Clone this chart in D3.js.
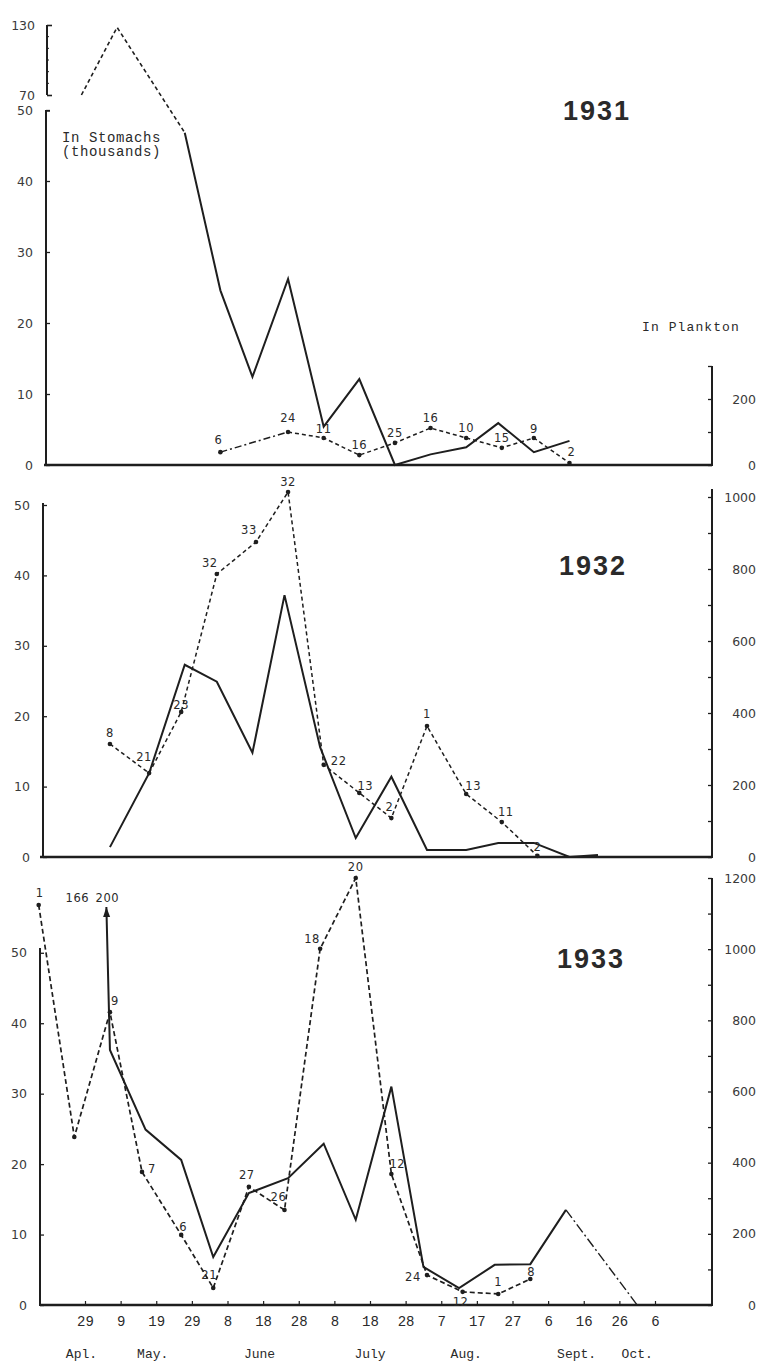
<!DOCTYPE html>
<html>
<head>
<meta charset="utf-8">
<script src="https://cdn.jsdelivr.net/npm/d3@7"></script>
<style>
  body { margin: 0; background: #fff; }
  #chart text { opacity: 0.995; }
  .num { font-family: "DejaVu Sans", sans-serif; font-size: 12.5px; fill: #3a3a3a; }
  .type { font-family: "Liberation Mono", monospace; fill: #2a2a2a; }
  .cnt { font-family: "DejaVu Sans", sans-serif; font-size: 11.5px; fill: #2a2a2a; letter-spacing: 0.6px; }
  .year { font-family: "Liberation Sans", Arial, sans-serif; font-weight: bold; font-size: 27px; fill: #2a2a2a; letter-spacing: 2px; }
</style>
</head>
<body>
<svg id="chart" width="761" height="1362"></svg>
<script>
// ---- shared calendar axis ----
const tickDates = ["04-29","05-09","05-19","05-29","06-08","06-18","06-28","07-08","07-18",
                   "07-28","08-07","08-17","08-27","09-06","09-16","09-26","10-06"];
const monthNames   = ["Apl.","May.","June","July","Aug.","Sept.","Oct."];
const monthAnchors = ["04-28","05-18","06-17","07-18","08-14","09-14","10-01"];

const stomachTicks = [0, 10, 20, 30, 40, 50];
const upperTicks1931 = [70, 130];
const planktonTicks1931 = [0, 100, 200, 300];
const planktonTicks1932 = [0, 100, 200, 300, 400, 500, 600, 700, 800, 900, 1000];
const planktonTicks1933 = [0, 100, 200, 300, 400, 500, 600, 700, 800, 900, 1000, 1100, 1200];

// ---- 1931 ----
const stomach1931HighDates = ["04-28", "05-08"];
const stomach1931High      = [70, 128];          // upper (broken) scale
const stomach1931Dates = ["05-27","06-06","06-15","06-25","07-05","07-15","07-25","08-04","08-14","08-23","09-02","09-12"];
const stomach1931      = [46.8, 24.6, 12.4, 26.2, 5.4, 12.1, 0, 1.5, 2.5, 5.9, 1.8, 3.4];
const plankton1931Dates  = ["06-06","06-25","07-05","07-15","07-25","08-04","08-14","08-24","09-02","09-12"];
const plankton1931       = [39, 100, 82, 30, 67, 112, 82, 52, 82, 6];
const plankton1931Counts = ["6","24","11","16","25","16","10","15","9","2"];

// ---- 1932 ----
const stomach1932Dates = ["05-06","05-17","05-27","06-05","06-15","06-24","07-04","07-14","07-24","08-03","08-14","08-23","09-02","09-12","09-20"];
const stomach1932      = [1.4, 11.9, 27.3, 24.9, 14.8, 37.2, 15.6, 2.7, 11.4, 1.0, 1.0, 2.0, 2.0, 0, 0.3];
const plankton1932Dates  = ["05-06","05-17","05-26","06-05","06-16","06-25","07-05","07-15","07-24","08-03","08-14","08-24","09-03"];
const plankton1932       = [314, 233, 403, 786, 875, 1014, 256, 178, 108, 364, 175, 97, 3];
const plankton1932Counts = ["8","21","23","32","33","32","22","13","2","1","13","11","2"];

// ---- 1933 ----
const stomach1933Dates = ["05-05","05-06","05-16","05-26","06-04","06-14","06-25","07-05","07-14","07-24","08-02","08-12","08-22","09-01","09-11","10-01"];
const stomach1933      = [200, 36.2, 24.9, 20.6, 6.8, 15.9, 18.0, 22.9, 12.1, 31.0, 5.4, 2.4, 5.7, 5.8, 13.5, 0];
const stomach1933Offscale = ["166", "200"];
const plankton1933Dates  = ["04-16","04-26","05-06","05-15","05-26","06-04","06-14","06-24","07-04","07-14","07-24","08-03","08-13","08-23","09-01"];
const plankton1933       = [1124, 472, 823, 374, 197, 48, 332, 267, 1001, 1200, 368, 84, 37, 31, 73];
const plankton1933Counts = ["1","","9","7","6","21","27","26","18","20","12","24","12","1","8"];

// label placement (offset of each count label's centre from its point)
const labelOffsets1931 = [[-2,-12],[0,-14],[0,-9],[0,-10],[0,-10],[0,-10],[0,-10],[0,-10],[0,-9],[2,-11]];
const labelOffsets1932 = [[0,-11],[-5,-16],[0,-7],[-7,-11],[-7,-12],[0,-10],[15,-4],[6,-7],[-2,-11],[0,-12],[7,-8],[4,-10],[0,-9]];
const labelOffsets1933 = [[1,-12],[0,0],[5,-11],[10,-3],[2,-8],[-4,-13],[-2,-12],[-6,-13],[-8,-10],[0,-11],[6,-10],[-14,2],[-2,10],[0,-12],[1,-7]];

// ---------------------------------------------------------------
const INK = "#1e1e1e";
const svg = d3.select("#chart");
const parseDay = d3.timeParse("%Y-%m-%d");
const day = s => parseDay("1931-" + s);

const x = d3.scaleTime().domain([day("04-29"), day("10-06")]).range([85, 655]);
const RIGHT_X = 712;

svg.append("defs").append("marker")
  .attr("id", "arrowHead")
  .attr("viewBox", "0 -4 10 8").attr("refX", 10).attr("refY", 0)
  .attr("markerWidth", 10).attr("markerHeight", 8)
  .attr("markerUnits", "userSpaceOnUse")
  .attr("orient", "auto-start-reverse")
  .append("path").attr("d", "M0,-3.5L10,0L0,3.5Z").attr("fill", INK);

const zip = (dates, vals) => dates.map((d, i) => ({ date: day(d), v: vals[i], i }));

function leftAxis(y, axisX, topY, ticks) {
  const g = svg.append("g").attr("transform", `translate(${axisX},0)`)
    .call(d3.axisLeft(y).tickValues(ticks).tickSizeInner(-4).tickSizeOuter(0).tickPadding(13));
  g.select(".domain").remove();
  g.selectAll(".tick line").attr("stroke", INK).attr("stroke-width", 1.3);
  g.selectAll("text").attr("class", "num").attr("fill", null).attr("font-family", null).attr("font-size", null);
  g.append("line").attr("x1", 0).attr("x2", 0)
    .attr("y1", y(ticks[0]) + 1).attr("y2", topY)
    .attr("stroke", INK).attr("stroke-width", 2);
  return g;
}

function rightAxis(y, ticks, topY) {
  const g = svg.append("g").attr("transform", `translate(${RIGHT_X},0)`)
    .call(d3.axisRight(y).tickValues(ticks).tickSizeInner(-4).tickSizeOuter(0)
      .tickFormat(v => v % 200 === 0 ? v : ""));
  g.select(".domain").remove();
  g.selectAll(".tick line").attr("stroke", INK).attr("stroke-width", 1.3);
  g.selectAll("text").attr("class", "num").attr("fill", null).attr("font-family", null).attr("font-size", null)
    .attr("text-anchor", "end").attr("x", 44);
  g.append("line").attr("x1", 0).attr("x2", 0)
    .attr("y1", y(0) + 1).attr("y2", topY)
    .attr("stroke", INK).attr("stroke-width", 2);
}

function baseline(yPix, x0) {
  svg.append("line").attr("x1", x0).attr("x2", RIGHT_X)
    .attr("y1", yPix).attr("y2", yPix)
    .attr("stroke", INK).attr("stroke-width", 2.4);
}

function pathLine(points, y, opts) {
  const line = d3.line().x(d => x(d.date)).y(d => d.y !== undefined ? d.y : y(d.v));
  return svg.append("path").datum(points)
    .attr("d", line)
    .attr("fill", "none")
    .attr("stroke", INK)
    .attr("stroke-width", opts.width || 2)
    .attr("stroke-linejoin", "miter")
    .attr("stroke-dasharray", opts.dash || null);
}

function dotsAndCounts(points, y, counts, offsets) {
  svg.append("g").selectAll("circle").data(points).join("circle")
    .attr("cx", d => x(d.date)).attr("cy", d => y(d.v)).attr("r", 2.3).attr("fill", INK);
  svg.append("g").selectAll("text").data(points.filter(d => counts[d.i])).join("text")
    .attr("class", "cnt")
    .attr("text-anchor", "middle")
    .attr("x", d => x(d.date) + offsets[d.i][0])
    .attr("y", d => y(d.v) + offsets[d.i][1] + 4)
    .text(d => counts[d.i]);
}

function yearLabel(text, cx, by) {
  svg.append("text").attr("class", "year").attr("text-anchor", "middle")
    .attr("x", cx).attr("y", by).text(text);
}

// =================== 1931 ===================
{
  const y = d3.scaleLinear().domain([0, 50]).range([465, 110]);
  const yUp = d3.scaleLinear().domain([70, 130]).range([95, 25]);
  const yR = d3.scaleLinear().domain([0, 300]).range([465, 366]);

  baseline(465, 44);
  leftAxis(y, 46, 110, stomachTicks);
  svg.append("line").attr("x1", 46).attr("x2", 50).attr("y1", 111).attr("y2", 111)
    .attr("stroke", INK).attr("stroke-width", 1.5);

  // broken upper scale
  const gu = svg.append("g").attr("transform", "translate(47,0)")
    .call(d3.axisLeft(yUp).tickValues(upperTicks1931).tickSizeInner(-5).tickSizeOuter(0).tickPadding(12));
  gu.select(".domain").remove();
  gu.selectAll(".tick line").attr("stroke", INK).attr("stroke-width", 1.6);
  gu.selectAll("text").attr("class", "num").attr("fill", null).attr("font-family", null).attr("font-size", null);
  gu.append("line").attr("y1", yUp(70)).attr("y2", yUp(130)).attr("stroke", INK).attr("stroke-width", 2);
  gu.selectAll(".minor").data(d3.range(80, 130, 10)).join("line")
    .attr("x1", 0).attr("x2", 2).attr("y1", d => yUp(d)).attr("y2", d => yUp(d))
    .attr("stroke", INK).attr("stroke-width", 1);

  rightAxis(yR, planktonTicks1931, 366);

  const high = zip(stomach1931HighDates, stomach1931High).map(d => ({ date: d.date, y: yUp(d.v) }));
  const main = zip(stomach1931Dates, stomach1931);
  pathLine(high.concat([{ date: main[0].date, y: y(main[0].v) }]), y, { width: 1.6, dash: "4,3" });
  pathLine(main, y, { width: 2 });

  const pl = zip(plankton1931Dates, plankton1931);
  pathLine(pl.slice(0, 2), yR, { width: 1.5, dash: "7,3,2,3" });
  pathLine(pl.slice(1), yR, { width: 1.5, dash: "4,3" });
  dotsAndCounts(pl, yR, plankton1931Counts, labelOffsets1931);

  svg.append("text").attr("class", "type").attr("font-size", 14).attr("letter-spacing", 0.6)
    .attr("x", 62).attr("y", 142).text("In Stomachs");
  svg.append("text").attr("class", "type").attr("font-size", 14).attr("letter-spacing", 0.6)
    .attr("x", 62).attr("y", 156).text("(thousands)");
  svg.append("text").attr("class", "type").attr("font-size", 13).attr("letter-spacing", 1.1)
    .attr("x", 642).attr("y", 331).text("In Plankton");

  yearLabel("1931", 597, 120);
}

// =================== 1932 ===================
{
  const y = d3.scaleLinear().domain([0, 50]).range([857, 505]);
  const yR = d3.scaleLinear().domain([0, 1000]).range([857, 497]);

  baseline(857, 40);
  leftAxis(y, 43, 503, stomachTicks);
  rightAxis(yR, planktonTicks1932, 489);

  pathLine(zip(stomach1932Dates, stomach1932), y, { width: 2 });
  const pl = zip(plankton1932Dates, plankton1932);
  pathLine(pl, yR, { width: 1.5, dash: "4,3" });
  dotsAndCounts(pl, yR, plankton1932Counts, labelOffsets1932);

  yearLabel("1932", 593, 575);
}

// =================== 1933 ===================
{
  // top of the stomach scale: larger values are drawn pinned there with an arrow
  const y = d3.scaleLinear().domain([0, 56.5]).range([1305, 907]).clamp(true);
  const yR = d3.scaleLinear().domain([0, 1200]).range([1305, 878]);

  baseline(1305, 40);
  leftAxis(y, 40, 948, stomachTicks);
  rightAxis(yR, planktonTicks1933, 878);

  // calendar axis
  const gx = svg.append("g").attr("transform", "translate(0,1305)")
    .call(d3.axisBottom(x).tickValues(tickDates.map(day)).tickSizeInner(-4).tickSizeOuter(0)
      .tickPadding(16).tickFormat(d => d.getDate()));
  gx.select(".domain").remove();
  gx.selectAll(".tick line").attr("stroke", INK).attr("stroke-width", 1.2);
  gx.selectAll("text").attr("class", "type").attr("fill", null).attr("font-family", null)
    .attr("font-size", 14).attr("dy", "0.35em");

  svg.append("g").selectAll("text").data(monthNames).join("text")
    .attr("class", "type").attr("font-size", 13).attr("text-anchor", "middle")
    .attr("x", (m, i) => x(day(monthAnchors[i]))).attr("y", 1358)
    .text(m => m);

  const st = zip(stomach1933Dates, stomach1933);
  pathLine(st.slice(0, -1), y, { width: 2 }).attr("marker-start", "url(#arrowHead)");
  pathLine(st.slice(-2), y, { width: 1.4, dash: "10,3,2,3" });

  // off-scale stomach counts written above the arrow
  const ax = x(st[0].date), ay = y(st[0].v);
  svg.append("text").attr("class", "cnt").attr("text-anchor", "middle")
    .attr("x", ax - 29).attr("y", ay - 5).text(stomach1933Offscale[0]);
  svg.append("text").attr("class", "cnt").attr("text-anchor", "middle")
    .attr("x", ax + 1).attr("y", ay - 5).text(stomach1933Offscale[1]);

  const pl = zip(plankton1933Dates, plankton1933);
  pathLine(pl, yR, { width: 1.7, dash: "5,3" });
  dotsAndCounts(pl, yR, plankton1933Counts, labelOffsets1933);

  yearLabel("1933", 591, 968);
}
</script>
</body>
</html>
